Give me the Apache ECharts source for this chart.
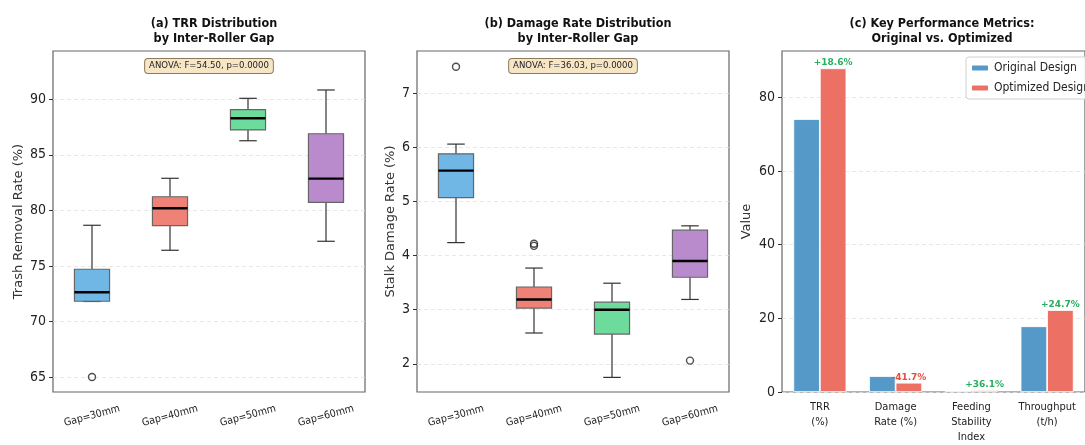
<!DOCTYPE html>
<html>
<head>
<meta charset="utf-8">
<script src="https://cdn.jsdelivr.net/npm/echarts@6/dist/echarts.min.js"></script>
<style>html,body{margin:0;padding:0;background:#fff}#c{width:1085px;height:445px}</style>
</head>
<body>
<div id="c"></div>
<script>
// ---- data ----
const gaps = ['Gap=30mm', 'Gap=40mm', 'Gap=50mm', 'Gap=60mm'];
// [min, Q1, median, Q3, max]
const trrBoxes = [
  [71.8, 71.82, 72.63, 74.7, 78.66],
  [76.41, 78.63, 80.19, 81.23, 82.89],
  [86.27, 87.24, 88.29, 89.07, 90.09],
  [77.22, 80.73, 82.86, 86.9, 90.84]
];
const trrOutliers = [[0, 65.0]];
const dmgBoxes = [
  [4.24, 5.07, 5.57, 5.88, 6.06],
  [2.57, 3.03, 3.19, 3.42, 3.77],
  [1.75, 2.55, 3.0, 3.14, 3.49],
  [3.19, 3.60, 3.90, 4.47, 4.55]
];
const dmgOutliers = [[0, 7.49], [1, 4.18], [1, 4.22], [3, 2.06]];
const boxColors = ['#71b7e6', '#ee8277', '#6ddb9c', '#b98bcc'];
const anovaTexts = ['ANOVA: F=54.50, p=0.0000', 'ANOVA: F=36.03, p=0.0000'];

const metrics = ['TRR\n(%)', 'Damage\nRate (%)', 'Feeding\nStability\nIndex', 'Throughput\n(t/h)'];
const originalVals = [74.1, 4.32, 0.36, 17.85];
const optimizedVals = [87.9, 2.52, 0.49, 22.26];
const changeLabels = ['+18.6%', '-41.7%', '+36.1%', '+24.7%'];
const changeColors = ['#27ae60', '#e74c3c', '#27ae60', '#27ae60'];

const trrTicks = [65, 70, 75, 80, 85, 90];
const dmgTicks = [2, 3, 4, 5, 6, 7];
const valTicks = [0, 20, 40, 60, 80];

// ---- chart ----
const FONT = 'DejaVu Sans';
const CFONT = 'DejaVu Sans Condensed';
const chart = echarts.init(document.getElementById('c'), null, {renderer: 'canvas'});

function boxRender(colors) {
  return function (params, api) {
    const i = api.value(0);
    const lo = api.coord([i, api.value(1)]);
    const q1 = api.coord([i, api.value(2)]);
    const md = api.coord([i, api.value(3)]);
    const q3 = api.coord([i, api.value(4)]);
    const hi = api.coord([i, api.value(5)]);
    const band = api.size([1, 0])[0];
    const w = band * 0.45;
    const cw = w * 0.5;
    const x = lo[0];
    const ls = {stroke: '#333', lineWidth: 1.2};
    return {
      type: 'group',
      children: [
        {type: 'line', shape: {x1: x, y1: q3[1], x2: x, y2: hi[1]}, style: ls},
        {type: 'line', shape: {x1: x, y1: q1[1], x2: x, y2: lo[1]}, style: ls},
        {type: 'line', shape: {x1: x - cw / 2, y1: hi[1], x2: x + cw / 2, y2: hi[1]}, style: ls},
        {type: 'line', shape: {x1: x - cw / 2, y1: lo[1], x2: x + cw / 2, y2: lo[1]}, style: ls},
        {type: 'rect', shape: {x: x - w / 2, y: q3[1], width: w, height: q1[1] - q3[1]},
          style: {fill: colors[params.dataIndex], stroke: '#666', lineWidth: 1.2}},
        {type: 'line', shape: {x1: x - w / 2, y1: md[1], x2: x + w / 2, y2: md[1]},
          style: {stroke: '#000', lineWidth: 2.4}}
      ]
    };
  };
}

function boxData(arr) { return arr.map((b, i) => [i].concat(b)); }

const gridBase = {top: 51, height: 341, show: true, borderColor: '#666', borderWidth: 1.2, containLabel: false};

function yAxisFor(gi, min, max, ticks, name, gap) {
  return {
    gridIndex: gi, type: 'value', min: min, max: max,
    name: name, nameLocation: 'middle', nameGap: gap,
    nameTextStyle: {fontFamily: FONT, fontSize: 13, color: '#333'},
    axisLine: {show: false},
    axisTick: {show: true, length: 4, lineStyle: {color: '#333'}, customValues: ticks},
    axisLabel: {fontFamily: CFONT, fontSize: 14, color: '#222', margin: 7, customValues: ticks},
    splitLine: {show: true, lineStyle: {color: '#e2e2e2', type: [4, 3], width: 0.8}}
  };
}

const titleStyle = {fontFamily: CFONT, fontSize: 12.5, fontWeight: 'bold', color: '#111', lineHeight: 15};

const option = {
  animation: false,
  backgroundColor: '#fff',
  title: [
    {text: '(a) TRR Distribution\nby Inter-Roller Gap', left: 209, top: 11, textAlign: 'center', textStyle: titleStyle},
    {text: '(b) Damage Rate Distribution\nby Inter-Roller Gap', left: 573, top: 11, textAlign: 'center', textStyle: titleStyle},
    {text: '(c) Key Performance Metrics:\nOriginal vs. Optimized', left: 937, top: 11, textAlign: 'center', textStyle: titleStyle}
  ],
  graphic: [
    {type: 'text', x: 209, y: 66, z: 50, style: {text: anovaTexts[0], align: 'center', verticalAlign: 'middle',
      fontFamily: CFONT, fontSize: 9.5, fill: '#222', backgroundColor: '#f7e6c6',
      borderColor: '#8c7a5c', borderWidth: 1, borderRadius: 3, padding: [2, 4, 2, 4]}},
    {type: 'text', x: 573, y: 66, z: 50, style: {text: anovaTexts[1], align: 'center', verticalAlign: 'middle',
      fontFamily: CFONT, fontSize: 9.5, fill: '#222', backgroundColor: '#f7e6c6',
      borderColor: '#8c7a5c', borderWidth: 1, borderRadius: 3, padding: [2, 4, 2, 4]}}
  ],
  legend: {
    data: ['Original Design', 'Optimized Design'],
    orient: 'vertical', left: 966, top: 57,
    itemWidth: 18, itemHeight: 7, itemGap: 8,
    backgroundColor: 'rgba(255,255,255,0.9)', borderColor: '#d0d0d0', borderWidth: 1, borderRadius: 3,
    padding: [5, 8, 5, 4],
    textStyle: {fontFamily: CFONT, fontSize: 12, color: '#222'}
  },
  grid: [
    Object.assign({left: 53, width: 312}, gridBase),
    Object.assign({left: 417, width: 312}, gridBase),
    Object.assign({left: 782, width: 307.2}, gridBase)
  ],
  xAxis: [
    {gridIndex: 0, type: 'category', data: gaps,
      axisLine: {show: false}, axisTick: {alignWithLabel: true, length: 4, lineStyle: {color: '#333'}},
      axisLabel: {rotate: 15, align: 'center', verticalAlign: 'middle', margin: 24, fontFamily: CFONT, fontSize: 10.5, color: '#222'}},
    {gridIndex: 1, type: 'category', data: gaps,
      axisLine: {show: false}, axisTick: {alignWithLabel: true, length: 4, lineStyle: {color: '#333'}},
      axisLabel: {rotate: 15, align: 'center', verticalAlign: 'middle', margin: 24, fontFamily: CFONT, fontSize: 10.5, color: '#222'}},
    {gridIndex: 2, type: 'category', data: metrics,
      axisLine: {show: false}, axisTick: {alignWithLabel: true, length: 4, lineStyle: {color: '#333'}},
      axisLabel: {margin: 8, verticalAlign: 'top', lineHeight: 15, fontFamily: CFONT, fontSize: 11, color: '#222'}}
  ],
  yAxis: [
    yAxisFor(0, 63.65, 94.35, trrTicks, 'Trash Removal Rate (%)', 28),
    yAxisFor(1, 1.48, 7.78, dmgTicks, 'Stalk Damage Rate (%)', 20),
    yAxisFor(2, 0, 92.6, valTicks, 'Value', 29)
  ],
  series: [
    {type: 'custom', xAxisIndex: 0, yAxisIndex: 0, data: boxData(trrBoxes),
      encode: {x: 0, y: [1, 2, 3, 4, 5]}, renderItem: boxRender(boxColors)},
    {type: 'scatter', xAxisIndex: 0, yAxisIndex: 0, data: trrOutliers, symbol: 'circle', symbolSize: 7,
      itemStyle: {color: 'rgba(0,0,0,0)', borderColor: '#222', borderWidth: 1.4}},
    {type: 'custom', xAxisIndex: 1, yAxisIndex: 1, data: boxData(dmgBoxes),
      encode: {x: 0, y: [1, 2, 3, 4, 5]}, renderItem: boxRender(boxColors)},
    {type: 'scatter', xAxisIndex: 1, yAxisIndex: 1, data: dmgOutliers, symbol: 'circle', symbolSize: 7,
      itemStyle: {color: 'rgba(0,0,0,0)', borderColor: '#222', borderWidth: 1.4}},
    {name: 'Original Design', type: 'bar', xAxisIndex: 2, yAxisIndex: 2, data: originalVals,
      barWidth: '35%', barGap: '0%', itemStyle: {color: '#5499c7', borderColor: '#fff', borderWidth: 0.8}},
    {name: 'Optimized Design', type: 'bar', xAxisIndex: 2, yAxisIndex: 2,
      data: optimizedVals.map((v, i) => ({value: v, label: {color: changeColors[i]}})),
      barWidth: '35%', barGap: '0%', itemStyle: {color: '#ec7063', borderColor: '#fff', borderWidth: 0.8},
      label: {show: true, position: 'top', distance: 1, fontFamily: FONT, fontSize: 9, fontWeight: 'bold',
        formatter: p => changeLabels[p.dataIndex]}}
  ]
};
chart.setOption(option);
</script>
</body>
</html>
